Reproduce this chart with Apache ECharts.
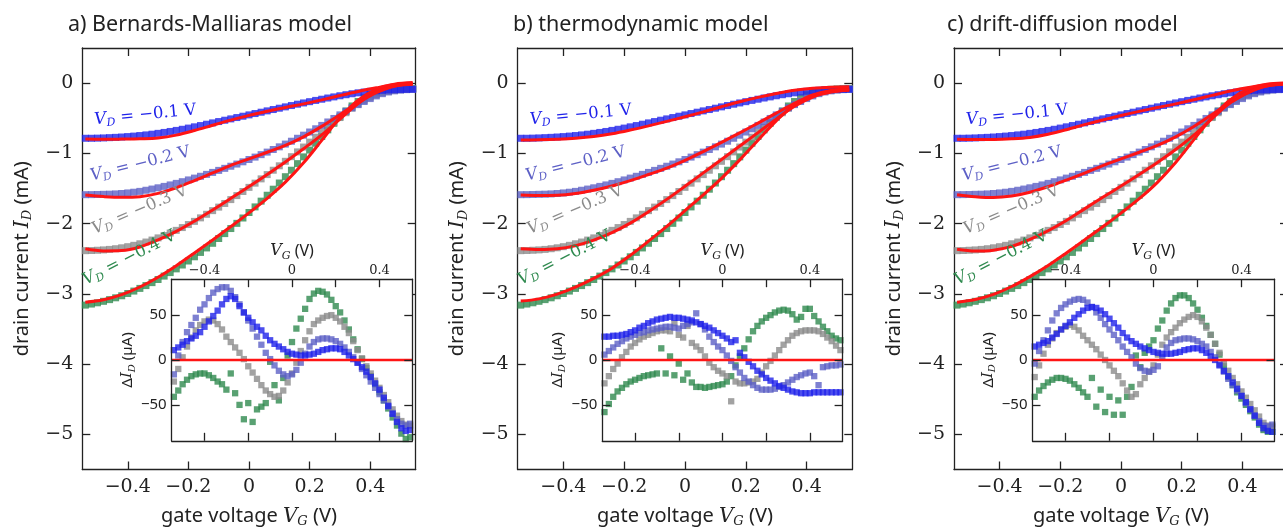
<!DOCTYPE html>
<html><head><meta charset="utf-8">
<script src="https://cdn.jsdelivr.net/npm/echarts@6/dist/echarts.min.js"></script>
<style>html,body{margin:0;padding:0;background:#fff}#c{width:1283px;height:529px}</style>
</head><body><div id="c"></div>
<script>
// ---------- data ----------
const VG = [-0.54,-0.52,-0.50,-0.48,-0.46,-0.44,-0.42,-0.40,-0.38,-0.36,-0.34,-0.32,-0.30,-0.28,-0.26,-0.24,-0.22,-0.20,-0.18,-0.16,-0.14,-0.12,-0.10,-0.08,-0.06,-0.04,-0.02,
  0.00,0.02,0.04,0.06,0.08,0.10,0.12,0.14,0.16,0.18,0.20,0.22,0.24,0.26,0.28,0.30,0.32,0.34,0.36,0.38,0.40,0.42,0.44,0.46,0.48,0.50,0.52,0.54];
const VG_FIT = [-0.54,-0.48,-0.42,-0.36,-0.30,-0.24,-0.18,-0.12,-0.06,0.00,0.06,0.12,0.18,0.24,0.30,0.36,0.42,0.48,0.54];
const VD_LABELS = ['−0.1','−0.2','−0.3','−0.4'];
const X_TICKS = [-0.4,-0.2,0,0.2,0.4];
const Y_TICKS = [0,-1,-2,-3,-4,-5];
const INSET_X_LABELS = [-0.4,0,0.4];
const INSET_Y_TICKS = [-50,0,50];

// measured drain current (mA), shared by all panels
const DATA_01 = [-0.785,-0.785,-0.783,-0.780,-0.776,-0.772,-0.767,-0.761,-0.754,-0.746,-0.737,-0.727,-0.715,-0.702,-0.688,-0.673,-0.657,-0.640,-0.622,-0.604,-0.585,-0.566,-0.547,-0.528,-0.509,-0.490,-0.471,
  -0.452,-0.433,-0.414,-0.395,-0.376,-0.357,-0.338,-0.319,-0.300,-0.282,-0.264,-0.246,-0.229,-0.212,-0.196,-0.180,-0.165,-0.151,-0.138,-0.127,-0.117,-0.109,-0.102,-0.097,-0.093,-0.090,-0.088,-0.087];
const DATA_02 = [-1.588,-1.587,-1.585,-1.583,-1.581,-1.577,-1.571,-1.563,-1.553,-1.541,-1.525,-1.508,-1.490,-1.470,-1.449,-1.427,-1.403,-1.378,-1.352,-1.326,-1.299,-1.271,-1.242,-1.213,-1.183,-1.152,-1.120,
  -1.087,-1.053,-1.018,-0.982,-0.945,-0.907,-0.868,-0.827,-0.785,-0.741,-0.696,-0.650,-0.602,-0.553,-0.503,-0.452,-0.400,-0.352,-0.306,-0.262,-0.220,-0.182,-0.150,-0.126,-0.110,-0.100,-0.093,-0.088];
const DATA_03 = [-2.385,-2.383,-2.379,-2.374,-2.367,-2.357,-2.344,-2.328,-2.309,-2.287,-2.262,-2.234,-2.203,-2.170,-2.134,-2.096,-2.056,-2.013,-1.968,-1.918,-1.867,-1.815,-1.765,-1.713,-1.658,-1.601,-1.543,
  -1.484,-1.424,-1.363,-1.302,-1.240,-1.177,-1.113,-1.047,-0.979,-0.910,-0.840,-0.770,-0.700,-0.630,-0.560,-0.490,-0.421,-0.356,-0.297,-0.245,-0.200,-0.165,-0.137,-0.116,-0.102,-0.092,-0.086,-0.082];
const DATA_04 = [-3.160,-3.145,-3.127,-3.106,-3.082,-3.056,-3.027,-2.995,-2.960,-2.922,-2.882,-2.840,-2.795,-2.747,-2.697,-2.644,-2.589,-2.532,-2.472,-2.410,-2.346,-2.280,-2.212,-2.142,-2.070,-1.996,-1.920,
  -1.842,-1.762,-1.680,-1.596,-1.510,-1.422,-1.332,-1.240,-1.146,-1.050,-0.953,-0.856,-0.760,-0.665,-0.572,-0.482,-0.397,-0.325,-0.262,-0.208,-0.165,-0.133,-0.110,-0.096,-0.088,-0.083,-0.080,-0.078];

// model fits (mA)
const FIT_A_01 = [-0.796,-0.800,-0.797,-0.792,-0.780,-0.740,-0.675,-0.600,-0.527,-0.459,-0.400,-0.347,-0.295,-0.238,-0.177,-0.119,-0.067,-0.024,-0.009];
const FIT_A_02 = [-1.593,-1.615,-1.626,-1.616,-1.570,-1.489,-1.387,-1.279,-1.171,-1.078,-0.984,-0.886,-0.764,-0.616,-0.449,-0.282,-0.137,-0.044,-0.017];
const FIT_A_03 = [-2.359,-2.389,-2.384,-2.332,-2.232,-2.110,-1.964,-1.805,-1.640,-1.472,-1.300,-1.122,-0.935,-0.737,-0.512,-0.290,-0.125,-0.039,-0.009];
const FIT_A_04 = [-3.119,-3.084,-3.011,-2.902,-2.763,-2.599,-2.417,-2.232,-2.042,-1.847,-1.640,-1.410,-1.135,-0.815,-0.494,-0.242,-0.088,-0.015,0.008];
const FIT_B_01 = [-0.811,-0.807,-0.798,-0.784,-0.760,-0.721,-0.668,-0.608,-0.545,-0.479,-0.409,-0.336,-0.266,-0.203,-0.147,-0.101,-0.073,-0.057,-0.051];
const FIT_B_02 = [-1.594,-1.601,-1.597,-1.572,-1.525,-1.464,-1.388,-1.301,-1.209,-1.098,-0.974,-0.844,-0.708,-0.570,-0.427,-0.289,-0.168,-0.103,-0.083];
const FIT_B_03 = [-2.359,-2.370,-2.359,-2.313,-2.235,-2.128,-1.993,-1.830,-1.655,-1.469,-1.278,-1.088,-0.896,-0.705,-0.512,-0.329,-0.198,-0.127,-0.093];
const FIT_B_04 = [-3.102,-3.071,-3.003,-2.904,-2.780,-2.634,-2.452,-2.250,-2.040,-1.815,-1.590,-1.355,-1.093,-0.813,-0.537,-0.310,-0.182,-0.120,-0.100];
const FIT_C_01 = [-0.800,-0.801,-0.801,-0.793,-0.773,-0.728,-0.663,-0.591,-0.524,-0.461,-0.402,-0.347,-0.295,-0.237,-0.174,-0.113,-0.062,-0.023,-0.007];
const FIT_C_02 = [-1.588,-1.616,-1.629,-1.608,-1.554,-1.474,-1.380,-1.280,-1.174,-1.078,-0.984,-0.886,-0.764,-0.617,-0.447,-0.278,-0.134,-0.042,-0.016];
const FIT_C_03 = [-2.366,-2.391,-2.378,-2.324,-2.225,-2.102,-1.956,-1.790,-1.625,-1.465,-1.300,-1.130,-0.945,-0.740,-0.505,-0.277,-0.123,-0.039,-0.008];
const FIT_C_04 = [-3.119,-3.081,-3.007,-2.895,-2.754,-2.596,-2.417,-2.232,-2.045,-1.850,-1.645,-1.412,-1.130,-0.805,-0.488,-0.234,-0.083,-0.016,0.002];

// residuals (µA)
const RES_A_01 = [11,14,17,21,24,27,31,37,43,49,55,62,68,71,68,60,53,47,42,37,33,27,22,18,15,12,9,7,6,5,5,6,7,9,11,12,13,13,12,9,5,1,-3,-8,-13,-19,-26,-33,-42,-51,-60,-69,-76,-79,-78];
const RES_A_02 = [-16,5,20,31,39,47,56,62,69,75,79,81,81,77,70,62,53,44,35,26,17,8,1,-6,-12,-16,-18,-16,-11,-3,7,15,20,23,24,24,23,21,18,14,9,3,-3,-10,-17,-24,-31,-38,-45,-52,-59,-66,-71,-73,-71];
const RES_A_03 = [-24,-10,3,15,25,33,39,43,45,44,40,34,26,20,14,8,1,-7,-14,-21,-28,-34,-38,-41,-40,-34,-25,-15,-3,10,22,32,40,44,47,49,50,47,43,37,30,21,11,2,-7,-15,-23,-31,-39,-47,-55,-62,-68,-72,-73];
const RES_A_04 = [-41,-34,-27,-22,-18,-16,-15,-15,-17,-20,-24,-27,-33,-15,-37,-50,-66,-48,-69,-55,-52,-48,-2,-28,-45,-20,5,20,35,46,57,68,74,77,76,73,67,60,53,44,34,23,12,1,-9,-18,-27,-36,-45,-54,-64,-73,-82,-88,-86];
const RES_B_01 = [26,26,27,27,28,29,31,33,36,38,41,43,45,46,47,48,47,47,46,45,44,42,40,38,36,33,30,27,24,20,22,8,3,-2,-7,-12,-16,-20,-23,-26,-29,-31,-33,-35,-36,-37,-37,-37,-36,-36,-36,-36,-36,-36,-36];
const RES_B_02 = [6,10,14,18,21,24,26,28,30,31,33,34,35,36,37,37,36,35,38,40,42,52,40,34,26,20,15,11,5,-1,-8,-14,-20,-24,-28,-31,-33,-33,-33,-32,-30,-28,-25,-22,-19,-17,-15,-14,-18,-28,-8,-7,-6,-6,-5];
const RES_B_03 = [-26,-18,-10,-4,3,9,15,19,23,26,28,30,32,33,33,32,41,28,25,38,19,15,11,4,-3,-8,-12,-15,-18,-46,-24,-26,-26,-25,-24,-21,-14,-7,-1,5,11,17,22,27,30,32,33,33,33,32,29,25,21,16,11];
const RES_B_04 = [-58,-49,-41,-35,-31,-27,-24,-22,-20,-18,-17,-16,-15,13,-15,4,-17,-4,-22,-15,-25,-30,-30,-31,-30,-29,-28,-27,-24,-18,-6,4,13,23,32,38,43,47,50,53,55,56,55,51,45,48,57,57,49,43,37,32,27,24,22];
const RES_C_01 = [15,17,19,21,25,29,34,38,42,47,51,55,58,59,58,55,51,46,41,36,30,25,21,18,15,13,11,9,8,7,7,7,8,9,11,12,13,13,11,8,4,0,-6,-12,-18,-25,-32,-40,-47,-55,-62,-70,-76,-79,-80];
const RES_C_02 = [-4,10,22,33,44,52,58,62,65,67,68,67,64,59,53,47,40,34,28,22,15,9,3,-4,-9,-12,-13,-11,-7,3,14,19,22,23,24,24,23,21,18,15,9,3,-5,-13,-21,-28,-34,-40,-48,-55,-62,-68,-73,-74,-72];
const RES_C_03 = [-19,-6,7,17,24,30,34,37,39,37,33,27,22,17,12,6,0,-6,-12,-18,-26,-34,-41,-38,-27,-20,-13,-6,6,17,25,31,36,41,45,48,50,48,43,36,28,18,8,-3,-12,-20,-27,-35,-42,-49,-56,-63,-70,-73,-74];
const RES_C_04 = [-41,-34,-29,-25,-22,-20,-20,-21,-23,-27,-31,-36,-41,-20,-52,-33,-58,-41,-61,-45,-61,-41,-30,5,-8,8,15,22,35,44,55,63,69,72,72,69,63,56,47,38,28,18,6,-7,-19,-28,-36,-43,-50,-57,-64,-72,-78,-80,-80];

// ---------- styling / layout ----------
const COLORS = ['#1f22ea','#5d60c6','#8b8b8b','#2f8a4f'];
const RED = '#ff1414';
const INK = '#222';
const SANS = 'Noto Sans';
const SERIF = 'DejaVu Serif';
const DATA = [DATA_01, DATA_02, DATA_03, DATA_04];
const PANELS = [
  {title:'a) Bernards-Malliaras model', tx:68,  L:82.3,  W:333.4, IL:171.7,  IW:240.6,
   fits:[FIT_A_01,FIT_A_02,FIT_A_03,FIT_A_04], res:[RES_A_01,RES_A_02,RES_A_03,RES_A_04]},
  {title:'b) thermodynamic model',      tx:513, L:517.7, W:334.6, IL:602.3,  IW:240.3,
   fits:[FIT_B_01,FIT_B_02,FIT_B_03,FIT_B_04], res:[RES_B_01,RES_B_02,RES_B_03,RES_B_04]},
  {title:'c) drift-diffusion model',    tx:947, L:954,   W:334,   IL:1032.5, IW:242,
   fits:[FIT_C_01,FIT_C_02,FIT_C_03,FIT_C_04], res:[RES_C_01,RES_C_02,RES_C_03,RES_C_04]}
];
const TOP = 48, H = 421.5, ITOP = 279.2, IH = 161.6;
const LABEL_POS = [
  {dx:63,   y:115, rot:5.5},
  {dx:58,   y:164, rot:14},
  {dx:57.5, y:210, rot:23},
  {dx:47,   y:258, rot:27}
];

const fmt = v => (v < 0 ? '\u2212' : '') + Math.abs(v);
const lineSt = {color: INK, width: 1.3};
const richAxis = (size, sub) => ({
  t:{fontFamily:SANS, fontSize:size, color:INK, lineHeight:size+4},
  v:{fontFamily:SERIF, fontStyle:'italic', fontSize:size, color:INK, lineHeight:size+4},
  s:{fontFamily:SERIF, fontStyle:'italic', fontSize:sub, color:INK, lineHeight:sub+2, verticalAlign:'bottom'}
});

function axis(o) {
  return Object.assign({
    type:'value', splitLine:{show:false}, scale:false,
    axisLine:{show:true, onZero:false, lineStyle:lineSt},
    axisTick:{show:true, inside:true, length:8, lineStyle:lineSt},
    axisLabel:{show:false}
  }, o);
}

const grid = [], xAxis = [], yAxis = [], series = [], graphic = [];
PANELS.forEach((P, p) => {
  const gm = grid.length;
  grid.push({left:P.L, top:TOP, width:P.W, height:H, containLabel:false, outerBoundsMode:'none'});
  const gi = grid.length;
  grid.push({left:P.IL, top:ITOP, width:P.IW, height:IH, containLabel:false, outerBoundsMode:'none', show:true,
             backgroundColor:'#fff', borderWidth:0, z:10});

  const xm = xAxis.length;
  xAxis.push(axis({gridIndex:gm, position:'bottom', min:-0.55, max:0.55,
    axisTick:{show:true, inside:true, length:8, lineStyle:lineSt, customValues:X_TICKS},
    axisLabel:{show:true, customValues:X_TICKS, formatter:fmt, fontFamily:SERIF, fontSize:19, color:INK, margin:8},
    name:'{t|gate voltage }{v|V}{s|G}{t| (V)}', nameLocation:'middle', nameGap:35,
    nameTextStyle:{rich:richAxis(20,13)}}));
  xAxis.push(axis({gridIndex:gm, position:'top', min:-0.55, max:0.55,
    axisTick:{show:true, inside:true, length:8, lineStyle:lineSt, customValues:X_TICKS}}));
  const xi = xAxis.length;
  xAxis.push(axis({gridIndex:gi, position:'top', min:-0.55, max:0.55, z:12,
    axisTick:{show:true, inside:true, length:8, lineStyle:lineSt, customValues:X_TICKS},
    axisLabel:{show:true, customValues:INSET_X_LABELS, formatter:fmt, fontFamily:SERIF, fontSize:13, color:INK, margin:2},
    name:'{v|V}{s|G}{t| (V)}', nameLocation:'middle', nameGap:18,
    nameTextStyle:{rich:richAxis(16,11)}}));
  xAxis.push(axis({gridIndex:gi, position:'bottom', min:-0.55, max:0.55, z:12,
    axisTick:{show:true, inside:true, length:8, lineStyle:lineSt, customValues:X_TICKS}}));

  const ym = yAxis.length;
  yAxis.push(axis({gridIndex:gm, position:'left', min:-5.5, max:0.5,
    axisTick:{show:true, inside:true, length:8, lineStyle:lineSt, customValues:Y_TICKS},
    axisLabel:{show:true, customValues:Y_TICKS, formatter:fmt, fontFamily:SERIF, fontSize:19, color:INK, margin:9},
    name:'{t|drain current }{v|I}{s|D}{t| (mA)}', nameLocation:'middle', nameGap:48, nameRotate:90,
    nameTextStyle:{rich:richAxis(20,13)}}));
  yAxis.push(axis({gridIndex:gm, position:'right', min:-5.5, max:0.5,
    axisTick:{show:true, inside:true, length:8, lineStyle:lineSt, customValues:Y_TICKS}}));
  const yi = yAxis.length;
  yAxis.push(axis({gridIndex:gi, position:'left', min:-90, max:90, z:12,
    axisTick:{show:true, inside:true, length:8, lineStyle:lineSt, customValues:INSET_Y_TICKS},
    axisLabel:{show:true, customValues:INSET_Y_TICKS, formatter:fmt, fontFamily:SANS, fontSize:15, color:INK, margin:5},
    name:'{t|\u0394}{v|I}{s|D}{t| (\u00b5A)}', nameLocation:'middle', nameGap:23, nameRotate:90,
    nameTextStyle:{rich:richAxis(15,10)}}));
  yAxis.push(axis({gridIndex:gi, position:'right', min:-90, max:90, z:12,
    axisTick:{show:true, inside:true, length:8, lineStyle:lineSt, customValues:INSET_Y_TICKS}}));

  // main measured data (green drawn first, blue on top)
  [3,2,1,0].forEach(k => {
    series.push({type:'scatter', xAxisIndex:xm, yAxisIndex:ym, symbol:'rect', symbolSize:7,
      itemStyle:{color:COLORS[k]}, z:2, silent:true, clip:true,
      data: VG.map((v,i) => [v, DATA[k][i]])});
  });
  [3,2,1,0].forEach(k => {
    series.push({type:'line', xAxisIndex:xm, yAxisIndex:ym, smooth:0.35, showSymbol:false, symbol:'none',
      lineStyle:{color:RED, width:3}, z:3, silent:true, clip:true,
      data: VG_FIT.map((v,i) => [v, P.fits[k][i]])});
  });
  // inset residuals
  [3,2,1,0].forEach(k => {
    const s = {type:'scatter', xAxisIndex:xi, yAxisIndex:yi, symbol:'rect', symbolSize:6.3,
      itemStyle:{color:COLORS[k]}, z:11, silent:true, clip:true,
      data: VG.map((v,i) => [v, P.res[k][i]])};
    if (k === 0) s.markLine = {silent:true, symbol:'none', label:{show:false}, z:12,
      lineStyle:{color:RED, width:2.4, type:'solid'}, data:[{yAxis:0}]};
    series.push(s);
  });

  graphic.push({type:'text', x:P.tx, y:25, z:20,
    style:{text:P.title, fontFamily:SANS, fontSize:21.5, fill:INK, align:'left', verticalAlign:'middle'}});
  LABEL_POS.forEach((lp, k) => {
    const c = COLORS[k];
    graphic.push({type:'text', x:P.L + lp.dx, y:lp.y, rotation:lp.rot*Math.PI/180, z:20,
      style:{text:'{v|V}{s|D}{t| = ' + VD_LABELS[k] + ' V}', align:'center', verticalAlign:'middle', fill:c,
        rich:{
          v:{fontFamily:SERIF, fontStyle:'italic', fontSize:16.5, fill:c, lineHeight:20},
          s:{fontFamily:SERIF, fontStyle:'italic', fontSize:11, fill:c, lineHeight:12, verticalAlign:'bottom'},
          t:{fontFamily:SERIF, fontSize:16.5, fill:c, lineHeight:20}
        }}});
  });
});

const chart = echarts.init(document.getElementById('c'), null, {renderer:'canvas'});
chart.setOption({animation:false, backgroundColor:'#fff', grid, xAxis, yAxis, series, graphic});
</script>
</body></html>
